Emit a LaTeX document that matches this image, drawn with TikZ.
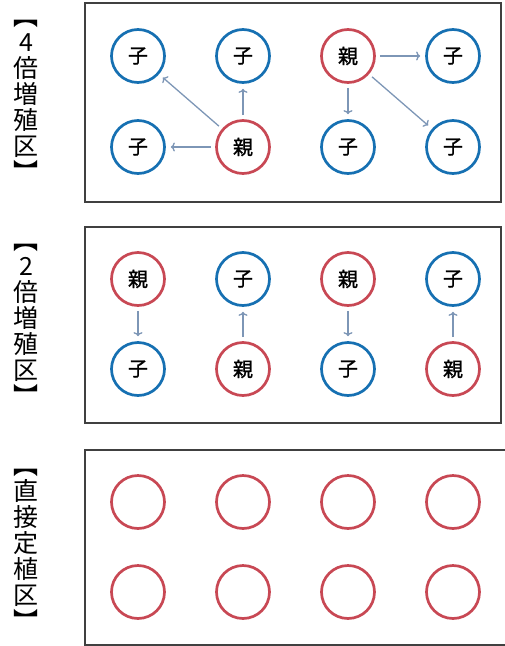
\documentclass[tikz,border=0pt]{standalone}
\usepackage{fontspec}
\usetikzlibrary{arrows.meta}
\newfontfamily\jp{Noto Sans CJK JP}
\newfontfamily\jpmaru[FakeBold=1.2]{Noto Sans CJK JP}
\definecolor{oyared}{RGB}{200,72,84}
\definecolor{koblue}{RGB}{22,112,178}
\definecolor{yajirushi}{RGB}{125,150,182}

\begin{document}
\begin{tikzpicture}[x=1pt,y=-1pt,
  maru/.style={circle,minimum size=53pt,inner sep=0pt,line width=2.7pt,
    font=\jpmaru\fontsize{20}{20}\selectfont},
  oya/.style={maru,draw=oyared},
  ko/.style={maru,draw=koblue},
  ya/.style={-{To[length=4pt,width=9pt]},draw=yajirushi,line width=1.3pt,shorten <=4pt,shorten >=5pt},
  waku/.style={line width=1.2pt,draw=black!75},
  midashi/.style={align=center,inner sep=0pt,font=\jp\fontsize{25}{26}\selectfont}]
\useasboundingbox (0,0) rectangle (504,646);
%
% waku
\draw[waku] (85,3) rectangle (501,202);
\draw[waku] (85,227) rectangle (501,423);
\draw[waku] (85,450) rectangle (510,645);
%
% midashi
\node[midashi] (mi1) at (26,101) {︻\\4\\倍\\増\\殖\\区\\︼};
\node[midashi] (mi2) at (26,325) {︻\\2\\倍\\増\\殖\\区\\︼};
\node[midashi] (mi3) at (26,550) {︻\\直\\接\\定\\植\\区\\︼};
%
% 4倍増殖区
\foreach \n/\x/\y/\t/\m in {a11/138/56/ko/子,a12/243/56/ko/子,a13/348/56/oya/親,a14/453/56/ko/子,%
a21/138/147/ko/子,a22/243/147/oya/親,a23/348/147/ko/子,a24/453/147/ko/子}
\node[\t] (\n) at (\x,\y) {\m};
\foreach \p/\c in {a22/a11,a22/a12,a22/a21,a13/a14,a13/a23,a13/a24}
\draw[ya] (\p) -- (\c);
%
% 2倍増殖区
\foreach \n/\x/\y/\t/\m in {b11/138/279/oya/親,b12/243/279/ko/子,b13/348/279/oya/親,b14/453/279/ko/子,%
b21/138/369/ko/子,b22/243/369/oya/親,b23/348/369/ko/子,b24/453/369/oya/親}
\node[\t] (\n) at (\x,\y) {\m};
\foreach \p/\c in {b11/b21,b22/b12,b13/b23,b24/b14}
\draw[ya] (\p) -- (\c);
%
% 直接定植区
\foreach \x [count=\i] in {138,243,348,453}
\foreach \y [count=\j] in {502,592}
\node[oya] (c\j\i) at (\x,\y) {};
\end{tikzpicture}
\end{document}
